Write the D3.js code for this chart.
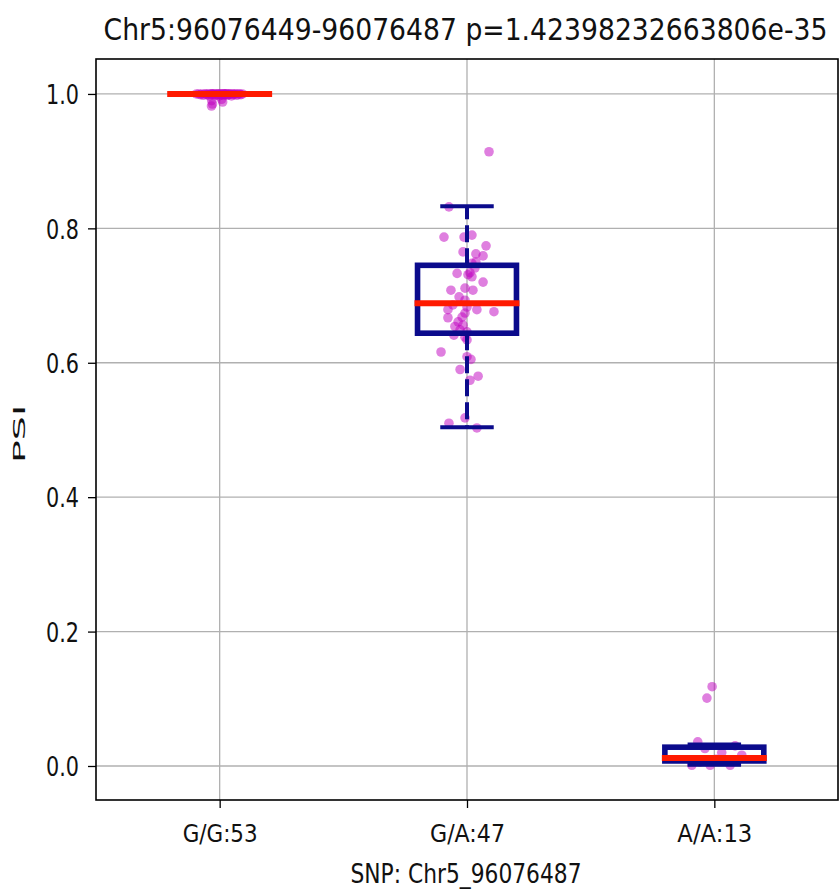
<!DOCTYPE html>
<html>
<head>
<meta charset="utf-8">
<script src="https://cdn.jsdelivr.net/npm/d3@7"></script>
<style>
  body { margin: 0; background: #fff; }
  svg { display: block; font-family: "DejaVu Sans", sans-serif; }
</style>
</head>
<body>
<svg id="chart" width="840" height="891"></svg>
<script>
const TITLE = "Chr5:96076449-96076487 p=1.42398232663806e-35";
const X_LABEL = "SNP: Chr5_96076487";
const Y_LABEL = "PSI";

const categories = ["G/G:53", "G/A:47", "A/A:13"];
const yTicks = [0.0, 0.2, 0.4, 0.6, 0.8, 1.0];

// box stats
const boxQ1 = [1.0, 0.644, 0.0075];
const boxMed = [1.0, 0.6885, 0.012];
const boxQ3 = [1.0, 0.745, 0.028];
const whiskLo = [1.0, 0.504, 0.002];
const whiskHi = [1.0, 0.833, 0.032];

// points, with horizontal jitter (category units) as seen in the picture
const ggValues = [1.000,1.000,0.999,1.000,0.998,1.000,1.000,0.999,1.000,0.997,
  1.000,1.000,0.999,1.000,1.000,0.998,1.000,0.999,1.000,1.000,
  0.997,1.000,1.000,0.999,1.000,0.998,1.000,1.000,0.999,1.000,
  1.000,0.998,1.000,0.999,1.000,1.000,0.997,1.000,0.999,1.000,
  1.000,0.998,1.000,1.000,0.999,1.000,1.000,1.000,
  0.990,0.985,0.982,0.992,0.988];
const ggJitter = [-0.094,-0.085,-0.078,-0.072,-0.066,-0.060,-0.055,-0.050,-0.045,-0.041,
  -0.037,-0.033,-0.029,-0.025,-0.021,-0.018,-0.014,-0.011,-0.008,-0.005,
  -0.002,0.001,0.004,0.007,0.010,0.013,0.016,0.019,0.022,0.025,
  0.028,0.031,0.034,0.037,0.040,0.044,0.048,0.052,0.056,0.060,
  0.065,0.070,0.075,0.080,0.086,0.092,-0.030,0.020,
  -0.032,-0.029,-0.033,0.008,0.012];

const gaValues = [0.914,0.832,0.787,0.787,0.790,0.774,0.765,0.762,0.759,0.748,
  0.741,0.733,0.731,0.728,0.720,0.708,0.711,0.708,0.698,0.693,
  0.686,0.683,0.679,0.679,0.676,0.674,0.667,0.668,0.661,0.656,
  0.654,0.649,0.646,0.641,0.638,0.634,0.616,0.609,0.605,0.590,
  0.580,0.574,0.518,0.510,0.503,0.734,0.750];
const gaJitter = [0.089,-0.073,-0.093,-0.012,0.020,0.077,-0.016,0.036,0.065,0.020,
  0.032,-0.040,0.004,0.020,0.065,-0.065,-0.008,0.024,-0.032,-0.008,
  -0.057,0.000,-0.077,0.040,0.109,-0.008,-0.077,-0.020,-0.036,-0.016,
  -0.049,-0.028,0.000,-0.053,-0.008,0.000,-0.105,0.000,0.016,-0.028,
  0.045,0.012,-0.008,-0.073,0.040,0.012,0.036];

const aaValues = [0.118,0.101,0.036,0.020,0.016,0.001,0.001,0.001,0.006,0.010,0.008,0.026,0.030];
const aaJitter = [-0.009,-0.030,-0.067,0.030,0.111,-0.091,-0.017,0.064,-0.058,0.007,0.047,-0.038,0.084];

const BOX_COLOR = "#0b0b8c";
const MED_COLOR = "#ff1a00";
const DOT_COLOR = "#c000c0";

const svg = d3.select("#chart");
const area = { left: 96, right: 838, top: 59, bottom: 800 };

const x = d3.scaleLinear().domain([0.5, 3.5]).range([area.left, area.right]);
const y = d3.scaleLinear().domain([-0.0506, 1.052]).range([area.bottom, area.top]);

// squeeze text horizontally to a target width
function fitWidth(sel, w) {
  sel.attr("textLength", w).attr("lengthAdjust", "spacingAndGlyphs");
}

// grid
const grid = svg.append("g");
grid.selectAll(".gy").data(yTicks).enter().append("line")
  .attr("x1", area.left).attr("x2", area.right)
  .attr("y1", d => y(d)).attr("y2", d => y(d))
  .attr("stroke", "#b0b0b0").attr("stroke-width", 1.3);
grid.selectAll(".gx").data(categories).enter().append("line")
  .attr("x1", (d, i) => x(i + 1)).attr("x2", (d, i) => x(i + 1))
  .attr("y1", area.top).attr("y2", area.bottom)
  .attr("stroke", "#b0b0b0").attr("stroke-width", 1.3);

// points
const groups = [[ggValues, ggJitter], [gaValues, gaJitter], [aaValues, aaJitter]];
groups.forEach(([vals, jit], i) => {
  svg.append("g").selectAll("circle")
    .data(vals)
    .enter()
    .append("circle")
    .attr("cx", (d, j) => x(i + 1 + jit[j]))
    .attr("cy", d => y(d))
    .attr("r", 4.8)
    .attr("fill", DOT_COLOR)
    .attr("fill-opacity", 0.5);
});

// boxes
const boxW = 0.4, capW = 0.2;
categories.forEach((c, i) => {
  const g = svg.append("g");
  const cx = i + 1;
  // whiskers
  g.append("line")
    .attr("x1", x(cx)).attr("x2", x(cx))
    .attr("y1", y(boxQ3[i])).attr("y2", y(whiskHi[i]))
    .attr("stroke", BOX_COLOR).attr("stroke-width", 4)
    .attr("stroke-dasharray", "17 6");
  g.append("line")
    .attr("x1", x(cx)).attr("x2", x(cx))
    .attr("y1", y(boxQ1[i])).attr("y2", y(whiskLo[i]))
    .attr("stroke", BOX_COLOR).attr("stroke-width", 4)
    .attr("stroke-dasharray", "17 6");
  // caps
  [whiskHi[i], whiskLo[i]].forEach(v => {
    g.append("line")
      .attr("x1", x(cx - capW / 2)).attr("x2", x(cx + capW / 2))
      .attr("y1", y(v)).attr("y2", y(v))
      .attr("stroke", BOX_COLOR).attr("stroke-width", 4)
      .attr("stroke-linecap", "square");
  });
  // box
  g.append("rect")
    .attr("x", x(cx - boxW / 2))
    .attr("y", y(boxQ3[i]))
    .attr("width", x(cx + boxW / 2) - x(cx - boxW / 2))
    .attr("height", y(boxQ1[i]) - y(boxQ3[i]))
    .attr("fill", "none")
    .attr("stroke", BOX_COLOR).attr("stroke-width", 5.6);
  // median
  g.append("line")
    .attr("x1", x(cx - boxW / 2)).attr("x2", x(cx + boxW / 2))
    .attr("y1", y(boxMed[i])).attr("y2", y(boxMed[i]))
    .attr("stroke", MED_COLOR).attr("stroke-width", 6)
    .attr("stroke-linecap", "square");
});

// axes
const axisY = d3.axisLeft(y).tickValues(yTicks).tickFormat(d3.format(".1f")).tickSize(8).tickPadding(9);
const gy = svg.append("g")
  .attr("transform", `translate(${area.left},0)`)
  .call(axisY);
gy.select(".domain").remove();
gy.selectAll(".tick line").attr("stroke", "#000").attr("stroke-width", 1.3);
gy.selectAll(".tick text")
  .attr("font-size", 27)
  .attr("font-family", "DejaVu Sans")
  .attr("fill", "#111")
  .attr("dy", "0.36em")
  .call(fitWidth, 33);

const axisX = d3.axisBottom(x).tickValues([1, 2, 3]).tickFormat((d, i) => categories[i]).tickSize(8);
const gx = svg.append("g")
  .attr("transform", `translate(0,${area.bottom})`)
  .call(axisX);
gx.select(".domain").remove();
gx.selectAll(".tick line").attr("stroke", "#000").attr("stroke-width", 1.3);
gx.selectAll(".tick text")
  .attr("font-size", 24)
  .attr("font-family", "DejaVu Sans")
  .attr("fill", "#111")
  .attr("y", 42)
  .attr("dy", 0)
  .call(fitWidth, 75);

// frame
svg.append("rect")
  .attr("x", area.left).attr("y", area.top)
  .attr("width", area.right - area.left).attr("height", area.bottom - area.top)
  .attr("fill", "none").attr("stroke", "#000").attr("stroke-width", 1.6);

// title and labels (condensed by a horizontal scale)
svg.append("text")
  .attr("transform", "translate(465.5,40) scale(0.86,1)")
  .attr("text-anchor", "middle")
  .attr("font-size", 31)
  .attr("fill", "#111")
  .text(TITLE);

svg.append("text")
  .attr("x", 466).attr("y", 883)
  .attr("text-anchor", "middle")
  .attr("font-size", 27)
  .attr("fill", "#111")
  .text(X_LABEL)
  .call(fitWidth, 231);

svg.append("text")
  .attr("transform", "translate(25,434) rotate(-90) scale(1,0.4)")
  .attr("text-anchor", "middle")
  .attr("font-size", 38)
  .attr("fill", "#111")
  .text(Y_LABEL);
</script>
</body>
</html>
